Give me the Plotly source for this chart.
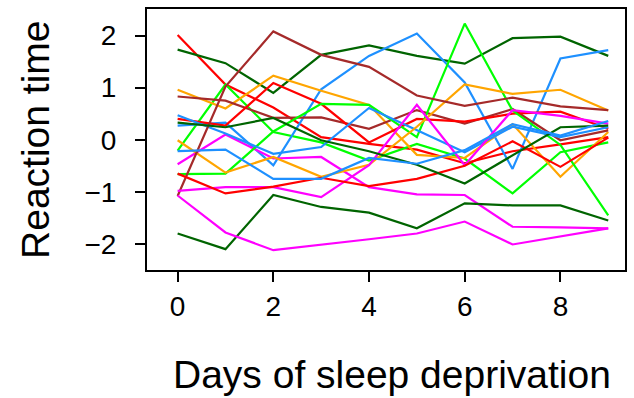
import plotly.graph_objects as go

days = [0, 1, 2, 3, 4, 5, 6, 7, 8, 9]

red_1 = [2.01, 1.06, 0.62, 0.05, -0.08, -0.19, -0.45, -0.22, -0.09, 0.05]
red_2 = [0.40, 0.27, 1.09, 0.69, -0.05, 0.40, 0.35, 0.50, 0.54, 0.21]
red_3 = [-0.65, -1.03, -0.90, -0.73, -0.89, -0.75, -0.50, -0.03, -0.52, 0.04]
lime_1 = [-0.21, 1.06, 0.15, -0.05, -0.40, -0.08, -0.36, -1.03, -0.24, -0.05]
lime_2 = [-0.66, -0.65, 0.16, 0.69, 0.67, 0.05, 2.23, 0.56, -0.10, -1.45]
dkgreen_1 = [1.73, 1.47, 0.90, 1.63, 1.81, 1.61, 1.46, 1.95, 1.98, 1.61]
dkgreen_2 = [-1.80, -2.10, -1.06, -1.29, -1.40, -1.70, -1.22, -1.26, -1.26, -1.55]
dkgreen_3 = [0.33, 0.24, 0.42, -0.01, -0.22, -0.48, -0.84, -0.30, 0.24, 0.27]
blue_1 = [0.27, 0.33, -0.49, 0.97, 1.61, 2.04, 1.10, -0.56, 1.56, 1.72]
blue_2 = [0.47, 0.12, -0.27, -0.14, 0.61, 0.18, -0.24, 0.25, 0.05, 0.24]
blue_3 = [-0.22, -0.19, -0.75, -0.75, -0.35, -0.46, -0.20, 0.30, 0.08, 0.36]
orange_1 = [0.96, 0.60, 1.23, 0.94, 0.67, -0.29, -0.35, 0.30, -0.71, 0.15]
orange_2 = [-0.01, -0.63, -0.33, -0.71, -0.48, 0.25, 1.06, 0.88, 0.96, 0.56]
brown_1 = [0.83, 0.75, 0.42, 0.43, 0.21, 0.57, 0.31, 0.59, -0.01, 0.18]
brown_2 = [-1.08, 1.02, 2.08, 1.63, 1.40, 0.85, 0.65, 0.81, 0.64, 0.57]
magenta_1 = [-0.47, 0.10, -0.36, -0.33, -0.91, -1.05, -1.06, -1.67, -1.68, -1.70]
magenta_2 = [-0.98, -0.91, -0.91, -1.10, -0.49, 0.67, -0.49, 0.57, 0.46, 0.31]
magenta_3 = [-1.07, -1.78, -2.12, -2.02, -1.91, -1.80, -1.57, -2.01, -1.85, -1.70]

series = [
    (red_1, "#FF0000"), (lime_1, "#00FF00"), (dkgreen_1, "#006400"),
    (blue_1, "#1E90FF"), (orange_1, "#FFA500"), (brown_1, "#A52A2A"),
    (magenta_1, "#FF00FF"),
    (red_2, "#FF0000"), (lime_2, "#00FF00"), (dkgreen_2, "#006400"),
    (blue_2, "#1E90FF"), (orange_2, "#FFA500"), (brown_2, "#A52A2A"),
    (magenta_2, "#FF00FF"),
    (red_3, "#FF0000"), (dkgreen_3, "#006400"), (blue_3, "#1E90FF"),
    (magenta_3, "#FF00FF"),
]

x_ticks = [0, 2, 4, 6, 8]
y_ticks = [-2, -1, 0, 1, 2]
x_title = "Days of sleep deprivation"
y_title = "Reaction time"

fig = go.Figure()
for vals, col in series:
    fig.add_trace(go.Scatter(x=days, y=vals, mode="lines",
                             line=dict(color=col, width=2.2), showlegend=False,
                             hoverinfo="skip"))

font = "Liberation Sans, Arial, Helvetica, sans-serif"
fig.update_layout(
    width=634, height=398,
    margin=dict(l=147, r=7, t=8, b=128),
    paper_bgcolor="white", plot_bgcolor="white",
    font=dict(family=font, color="black", size=28),
    xaxis=dict(range=[-0.64, 9.35], tickvals=x_ticks, ticks="outside",
               ticklen=10, tickwidth=2, tickcolor="black",
               showline=True, linecolor="black", linewidth=2, mirror=True,
               showgrid=False, zeroline=False,
               tickfont=dict(size=28, family=font)),
    yaxis=dict(range=[-2.5, 2.51], tickvals=y_ticks, ticks="outside",
               ticklen=10, tickwidth=2, tickcolor="black",
               showline=True, linecolor="black", linewidth=2, mirror=True,
               showgrid=False, zeroline=False, ticklabelstandoff=13,
               tickfont=dict(size=28, family=font)),
    annotations=[
        dict(text=x_title, xref="paper", yref="paper", showarrow=False,
             x=(393 - 147) / 480, y=(270 - 375) / 262,
             xanchor="center", yanchor="middle",
             font=dict(size=39, family=font, color="black")),
        dict(text=y_title, xref="paper", yref="paper", showarrow=False,
             x=(35 - 147) / 480, y=(270 - 139) / 262, textangle=-90,
             xanchor="center", yanchor="middle",
             font=dict(size=39, family=font, color="black")),
    ],
)

fig.write_html("out.html")
